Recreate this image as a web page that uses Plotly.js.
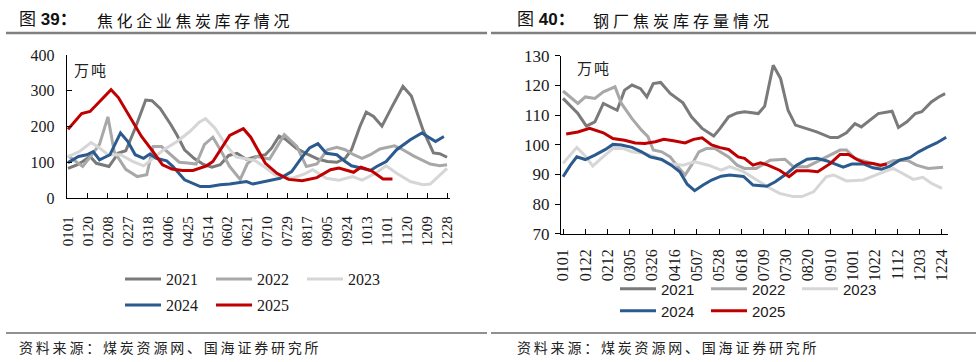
<!DOCTYPE html>
<html>
<head>
<meta charset="utf-8">
<script src="https://cdn.plot.ly/plotly-3.0.1.min.js"></script>
<style>
html,body{margin:0;padding:0;background:#fff;}
#chart{width:978px;height:362px;}
</style>
</head>
<body>
<div id="chart"></div>
<script>
// ---------- tick labels (MMDD) ----------
const cokeTickLabels = ['0101','0120','0208','0227','0318','0406','0425','0514','0602','0621','0710','0729','0817','0905','0924','1013','1101','1120','1209','1228'];
const millTickLabels = ['0101','0122','0212','0305','0326','0416','0507','0528','0618','0709','0730','0820','0910','1001','1022','1112','1203','1224'];
const years = ['2021','2022','2023','2024','2025'];

// ---------- Fig 39: coking enterprises coke inventory (10k t); x = day of year (0 = Jan 1) ----------
const cokeDays2021 = [0,8,14,21,27,39,48,55,64,74,80,88,98,104,111,120,129,137,145,153,161,170,178,188,194,201,207,218,229,238,247,256,264,270,278,284,291,299,308,319,327,338,348,354,361];
const coke2021     = [83,92,102,116,97,88,126,132,195,274,272,250,205,175,135,111,94,86,93,119,125,108,115,121,140,173,165,138,121,109,102,100,111,135,200,240,228,201,252,312,285,191,126,124,114];
const cokeDays2022 = [0,8,14,22,30,38,44,55,66,75,81,89,98,106,114,122,130,138,146,154,164,171,180,192,206,218,227,237,247,256,264,272,280,288,297,311,319,329,345,354,361];
const coke2022     = [118,100,88,118,150,227,130,80,60,65,144,144,120,100,98,95,150,170,130,88,52,97,116,109,177,144,88,95,135,142,135,121,111,121,137,146,135,118,95,90,93];
const cokeDays2023 = [0,11,22,30,38,50,62,72,81,91,104,116,125,131,140,150,160,173,178,188,197,213,226,233,246,258,271,280,293,303,313,326,338,345,361];
const coke2023     = [116,130,155,140,121,121,102,90,111,135,158,186,212,222,195,150,115,107,105,85,65,55,68,79,55,50,60,50,69,90,69,46,37,39,83];
const cokeDays2024 = [0,10,18,24,30,40,50,57,64,72,78,84,94,100,111,126,135,145,154,164,170,176,189,202,213,222,230,238,246,256,264,270,280,288,294,303,313,326,337,345,350,358];
const coke2024     = [99,116,121,130,107,121,182,158,121,111,123,111,104,88,51,32,32,37,39,43,46,39,46,55,74,111,140,152,125,121,102,90,83,77,88,102,135,163,182,168,158,172];
const cokeDays2025 = [0,13,21,30,41,48,59,70,81,90,99,109,119,132,138,154,167,174,188,199,210,223,237,250,258,272,279,289,300,309];
const coke2025     = [192,236,242,270,303,281,228,172,130,93,81,77,77,90,102,175,194,170,97,69,52,48,57,79,84,72,86,76,53,53];

// ---------- Fig 40: steel mills coke inventory (10k t) ----------
const millDays2021 = [0,14,22,30,38,44,51,58,65,73,79,85,92,101,109,113,121,131,142,148,156,164,171,184,190,198,205,212,219,228,239,252,259,267,275,281,289,297,310,316,324,332,338,347,354,360];
const mill2021     = [115.6,110.5,106.3,107.7,113.9,112.8,111.6,118.4,120.1,118.9,116.1,120.6,121,117.3,115,114.1,109.4,105.5,102.9,105.5,109.4,110.7,111.1,110.5,113,126.8,122.3,111.6,106.6,105.5,104.3,102.4,102.4,104,107.1,106,108.3,110.5,111.3,105.8,107.7,110.5,111.1,114.4,116.1,117.2];
const millDays2022 = [0,14,21,30,38,49,55,65,74,80,85,93,101,107,115,121,128,135,143,156,164,171,182,195,209,217,230,248,261,267,275,289,299,311,324,333,344,358];
const mill2022     = [118.1,113.9,116.1,115.6,117.8,119.5,113.9,108.8,104.9,102.7,98.2,97.6,95.9,93.1,89.8,93.1,97.6,98.7,98.7,95.9,93.1,92,92,94.8,95.1,92.6,92.6,95.9,98.2,98.2,95.4,93.9,92.8,94.6,94.8,93.1,92,92.4];
const millDays2023 = [0,13,21,28,36,47,57,65,77,87,99,113,124,137,149,157,170,182,195,204,217,225,236,248,255,267,283,295,311,317,330,339,347,357];
const mill2023     = [93.7,99.1,96.2,92.8,95.4,98.7,98.7,97.6,97,95.9,93.7,93.1,94.2,93.1,91.4,92.6,90.9,88.1,85.3,83.6,82.5,82.5,84.1,89.2,89.8,87.8,88.1,89.8,92,90.9,88.3,89,87,85.3];
const millDays2024 = [0,7,13,21,30,40,47,55,65,74,82,93,102,110,117,124,132,140,149,157,170,179,192,200,211,220,230,239,248,256,264,272,283,292,300,308,317,327,335,343,352,361];
const mill2024     = [89.2,93.1,95.9,95,96.5,98.4,100.1,99.9,99.1,97.6,95.9,95,93.1,90.9,86.7,84.5,86.4,88.1,89.4,89.8,89.3,86.4,86,87.5,90.3,93.1,95.1,95.4,94.6,93.5,92.4,93.5,93.5,92.2,91.7,92.8,94.8,95.7,97.6,99.1,100.6,102.5];
const millDays2025 = [3,14,25,38,47,58,68,77,87,95,104,115,123,131,140,148,156,165,171,179,186,193,204,213,220,231,240,252,261,269,277,284,292,299,305];
const mill2025     = [103.6,104.3,105.5,104,102.1,101.5,100.6,100.4,101,101.8,101.3,100.6,101.8,102.3,99.9,99,98.4,95.9,95.4,93.1,93.9,93.1,91.4,89.2,91.2,91.2,90.9,93.7,96.7,96.7,95,93.9,93.7,93.1,93.5];

// ---------- styling ----------
const colors = {'2021':'#7a7a7a','2022':'#a8a8a8','2023':'#d6d6d6','2024':'#2b5a8e','2025':'#c00000'};
const W = 978, H = 362;
const px = v => v / W;
const py = v => 1 - v / H;

function dayOfYear(mmdd){
  const cum=[0,31,59,90,120,151,181,212,243,273,304,334];
  return cum[+mmdd.slice(0,2)-1] + (+mmdd.slice(2)) - 1;
}

const cokeSeries = {'2021':[cokeDays2021,coke2021],'2022':[cokeDays2022,coke2022],'2023':[cokeDays2023,coke2023],'2024':[cokeDays2024,coke2024],'2025':[cokeDays2025,coke2025]};
const millSeries = {'2021':[millDays2021,mill2021],'2022':[millDays2022,mill2022],'2023':[millDays2023,mill2023],'2024':[millDays2024,mill2024],'2025':[millDays2025,mill2025]};

const traces = [];
years.forEach((yr,i)=>{
  traces.push({x:cokeSeries[yr][0], y:cokeSeries[yr][1], xaxis:'x', yaxis:'y', type:'scatter', mode:'lines', name:yr,
    line:{color:colors[yr], width:3}, legend: i<3 ? 'legend' : 'legend2', hoverinfo:'skip'});
});
years.forEach((yr,i)=>{
  traces.push({x:millSeries[yr][0], y:millSeries[yr][1], xaxis:'x2', yaxis:'y2', type:'scatter', mode:'lines', name:yr,
    line:{color:colors[yr], width:3}, legend: i<3 ? 'legend3' : 'legend4', hoverinfo:'skip'});
});

const serif = 'Liberation Serif, Times New Roman, serif';
const sans = 'Liberation Sans, Arial, sans-serif';
const cjk = 'Noto Sans CJK SC, sans-serif';

function legendCfg(x, y, fam, size){
  return {x:x, y:y, xanchor:'left', yanchor:'middle', orientation:'h', bgcolor:'rgba(0,0,0,0)',
    font:{family:fam, size:size, color:'#1a1a1a'}, entrywidth:40, entrywidthmode:'pixels', tracegroupgap:0, itemwidth:36};
}

const layout = {
  width:W, height:H, margin:{l:0,r:0,t:0,b:0}, paper_bgcolor:'#fff', plot_bgcolor:'#fff', showlegend:true,
  xaxis:{domain:[px(67),px(450)], range:[-0.95,363.8], tickmode:'array',
    tickvals:cokeTickLabels.map(dayOfYear), ticktext:cokeTickLabels, tickangle:-90,
    ticks:'inside', ticklen:5, tickcolor:'#000', showline:true, linecolor:'#000', linewidth:1.2,
    showgrid:false, zeroline:false, tickfont:{family:serif, size:15, color:'#1a1a1a'}, ticklabelstandoff:11, fixedrange:true},
  yaxis:{domain:[py(198),py(55)], range:[0,400], dtick:100, tick0:0,
    ticks:'inside', ticklen:5, tickcolor:'#000', showline:true, linecolor:'#000', linewidth:1.2,
    showgrid:false, zeroline:false, tickfont:{family:serif, size:16, color:'#1a1a1a'}, ticklabelstandoff:8, fixedrange:true},
  xaxis2:{domain:[px(561),px(948)], range:[-1.9,362.7], anchor:'y2', tickmode:'array',
    tickvals:millTickLabels.map(dayOfYear), ticktext:millTickLabels, tickangle:-90,
    ticks:'inside', ticklen:5, tickcolor:'#000', showline:true, linecolor:'#000', linewidth:1.2,
    showgrid:false, zeroline:false, tickfont:{family:serif, size:16, color:'#1a1a1a'}, ticklabelstandoff:8, fixedrange:true},
  yaxis2:{domain:[py(233.7),py(55.7)], range:[70,130], dtick:10, tick0:70, anchor:'x2',
    ticks:'outside', ticklen:5, tickcolor:'#000', showline:true, linecolor:'#000', linewidth:1.2,
    showgrid:false, zeroline:false, tickfont:{family:serif, size:17, color:'#1a1a1a'}, ticklabelstandoff:2, fixedrange:true},
  legend: legendCfg(px(120), py(279), serif, 16),
  legend2: legendCfg(px(120), py(305), serif, 16),
  legend3: legendCfg(px(615), py(289), sans, 15),
  legend4: legendCfg(px(615), py(311), sans, 15),
  shapes:[
    {type:'line', xref:'paper', yref:'paper', x0:px(6), x1:px(487), y0:py(33), y1:py(33), line:{color:'#808080', width:2.5}},
    {type:'line', xref:'paper', yref:'paper', x0:px(491), x1:px(976), y0:py(33), y1:py(33), line:{color:'#808080', width:2.5}},
    {type:'line', xref:'paper', yref:'paper', x0:px(6), x1:px(487), y0:py(333), y1:py(333), line:{color:'#222', width:1.2}},
    {type:'line', xref:'paper', yref:'paper', x0:px(491), x1:px(976), y0:py(333), y1:py(333), line:{color:'#222', width:1.2}}
  ],
  annotations:[
    {text:'图 <b>39：</b>', xref:'paper', yref:'paper', x:px(17), y:py(20), xanchor:'left', yanchor:'middle', showarrow:false, font:{family:sans+', '+cjk, size:17, color:'#111'}},
    {text:'焦化企业焦炭库存情况', xref:'paper', yref:'paper', x:px(95), y:py(20), xanchor:'left', yanchor:'middle', showarrow:false, font:{family:cjk, size:16, color:'#111'}},
    {text:'图 <b>40：</b>', xref:'paper', yref:'paper', x:px(515), y:py(20), xanchor:'left', yanchor:'middle', showarrow:false, font:{family:sans+', '+cjk, size:17, color:'#111'}},
    {text:'钢厂焦炭库存量情况', xref:'paper', yref:'paper', x:px(591), y:py(20), xanchor:'left', yanchor:'middle', showarrow:false, font:{family:cjk, size:16, color:'#111'}},
    {text:'万吨', xref:'paper', yref:'paper', x:px(72), y:py(69), xanchor:'left', yanchor:'middle', showarrow:false, font:{family:cjk, size:15, color:'#222'}},
    {text:'万吨', xref:'paper', yref:'paper', x:px(575), y:py(68), xanchor:'left', yanchor:'middle', showarrow:false, font:{family:cjk, size:15, color:'#222'}},
    {text:'资料来源：煤炭资源网、国海证券研究所', xref:'paper', yref:'paper', x:px(17), y:py(347), xanchor:'left', yanchor:'middle', showarrow:false, font:{family:cjk, size:14, color:'#222'}},
    {text:'资料来源：煤炭资源网、国海证券研究所', xref:'paper', yref:'paper', x:px(515), y:py(347), xanchor:'left', yanchor:'middle', showarrow:false, font:{family:cjk, size:14, color:'#222'}}
  ]
};

const spacing = {1:3.6, 3:4, 4:2, 5:2, 6:2.8, 7:2.8};
Plotly.newPlot('chart', traces, layout, {staticPlot:true, displayModeBar:false}).then(gd=>{
  Object.keys(spacing).forEach(k=>{
    const t = gd.querySelector('.annotation[data-index="'+k+'"] .annotation-text');
    if(!t) return;
    const b0 = t.getBBox();
    t.style.letterSpacing = spacing[k] + 'px';
    const b1 = t.getBBox();
    const x0 = parseFloat(t.getAttribute('x')) || 0;
    t.setAttribute('x', x0 + (b0.x - b1.x));
  });
});
</script>
</body>
</html>
